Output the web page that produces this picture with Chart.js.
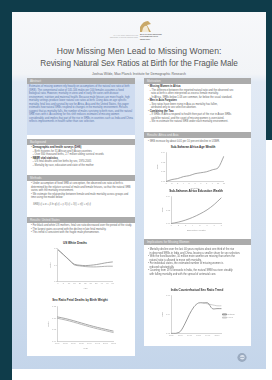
<!DOCTYPE html>
<html>
<head>
<meta charset="utf-8">
<script src="https://cdn.jsdelivr.net/npm/chart.js@4.4.1/dist/chart.umd.min.js"></script>
<style>
  body { margin: 0; width: 272px; height: 380px; background: #fff; position: relative; overflow: hidden; font-family: "Liberation Sans", Arial, sans-serif; }
  .abs { position: absolute; }
  .teal { position: absolute; background: #0f3c4a; }
  #poster { position: absolute; left: 12px; top: 12px; width: 254px; height: 357px;
    background: linear-gradient(#f7f8fa 0px, #f2f4f7 62px, #e2eaf5 70px, #d3e0f0 220px, #c4d5ea 357px); }
  .panel { position: absolute; background: #fff; }
  .hdr { position: absolute; height: 6px; background: #ababab; color: #eee; font-size: 3px; line-height: 6px; padding-left: 3px; box-sizing: border-box; }
  .txt { position: absolute; font-size: 2.6px; line-height: 3.5px; color: #666; }
  .txt b { color: #333; }
  .ctitle { position: absolute; font-size: 3px; font-weight: bold; color: #333; text-align: center; }
  .chart { position: absolute; }
</style>
</head>
<body>
<div class="teal" style="left:0;top:0;width:272px;height:12px"></div>
<div class="teal" style="left:0;top:0;width:12px;height:380px"></div>
<div class="teal" style="left:266px;top:0;width:6px;height:140px"></div>

<div id="poster"></div>

<!-- Kopfbereich -->
<svg class="abs" style="left:139px;top:20px" width="14" height="13" viewBox="0 0 14 13">
  <path d="M1 12 L1 7 Q4 1 9 1 L12 4 L8 5 L12 12 Z" fill="#c9a868"/>
  <path d="M3 12 L4 8 Q6 5 8 6 L10 12 Z" fill="#f3ead6"/>
</svg>
<div class="abs" style="left:100px;top:34px;width:38px;font-size:1.8px;line-height:2.4px;color:#aaa;text-align:right">MAX-PLANCK-INSTITUT FÜR<br>DEMOGRAFISCHE FORSCHUNG</div>
<div class="abs" style="left:140px;top:33px;width:40px;font-size:1.8px;line-height:2.4px;color:#555;font-weight:bold">MAX PLANCK INSTITUTE<br>FOR DEMOGRAPHIC<br>RESEARCH</div>
<div class="abs" style="left:12px;top:45px;width:254px;text-align:center;font-size:8.6px;line-height:12px;color:#555">How Missing Men Lead to Missing Women:</div>
<div class="abs" style="left:12px;top:58px;width:254px;text-align:center;font-size:8.2px;line-height:12px;color:#555;letter-spacing:-0.1px">Revising Natural Sex Ratios at Birth for the Fragile Male</div>
<div class="abs" style="left:12px;top:72px;width:254px;text-align:center;font-size:3.4px;line-height:4px;color:#666">Joshua Wilde, Max Planck Institute for Demographic Research</div>

<!-- Panels -->
<div class="panel" style="left:27px;top:78px;width:108px;height:278px"></div>
<div class="panel" style="left:144px;top:78px;width:107px;height:268px"></div>

<!-- linke Spalte -->
<div class="hdr" style="left:27px;top:78px;width:108px">Abstract</div>
<div class="abs" style="left:27px;top:84px;width:108px;height:51px;background:#cfdcf0"></div>
<div class="txt" style="left:29px;top:85px;width:104px;color:#5a76ac">Estimates of missing women rely heavily on assumptions of the natural sex ratio at birth (SRB). The conventional value of 105-106 males per 100 females assumes a fixed biological ratio. However, mortality in utero and in early life varies with disease environment, nutrition and maternal health. Because male fetuses are more fragile, high mortality settings produce lower natural sex ratios at birth. Using data on age specific mortality, fetal loss and survival by sex for Africa, Asia and the United States, this paper estimates how natural SRBs respond to changes in the mortality environment. Results suggest that as mortality falls, the number of males surviving to birth rises, and the natural SRB rises with it. Accounting for this shift reduces estimates of missing women considerably, and implies that part of the rise in SRBs in countries such as India and China reflects improvements in health rather than sex selection.</div>

<div class="hdr" style="left:27px;top:139px;width:108px">Background</div>
<div class="txt" style="left:31px;top:146px;width:102px">&bull; <b>Demographic and health surveys (DHS)</b><br>&nbsp;&nbsp;– Birth histories for 31 African and 9 Asian countries<br>&nbsp;&nbsp;– Over 800 thousand births, 2.7 million sibling survival records<br>&bull; <b>NBER vital statistics</b><br>&nbsp;&nbsp;– US fetal deaths and live births by sex, 1970-2005<br>&nbsp;&nbsp;– Mortality by race, education and state of the mother</div>

<div class="hdr" style="left:27px;top:175px;width:108px">Methods</div>
<div class="txt" style="left:31px;top:182px;width:102px">&bull; Under assumption of fixed SRB at conception, the observed sex ratio at birth is determined by the relative survival of male and female fetuses, so that the natural SRB varies with the mortality environment.<br>&bull; We estimate the relationship between female and male mortality across groups and time using the model below:</div>
<div class="txt" style="left:33px;top:203px;width:100px;font-style:italic;color:#777">SRB(i,t) = &alpha; + &beta; ln q(i,t) + &gamma; X(i,t) + &delta;(i) + &tau;(t) + &epsilon;(i,t)</div>

<div class="hdr" style="left:27px;top:217px;width:108px">Results: United States</div>
<div class="txt" style="left:31px;top:224px;width:102px">&bull; For black and white US mothers, fetal sex ratio decreased over the period of the study.<br>&bull; The largest gains occurred with the decline in late fetal mortality.<br>&bull; This trend is consistent with the fragile male phenomenon.</div>
<div class="ctitle" style="left:50px;top:241px;width:50px">US White Deaths</div>
<div class="chart" style="left:47px;top:246px;width:68px;height:46px"><canvas id="c1"></canvas></div>
<div class="ctitle" style="left:40px;top:298px;width:80px">Sex Ratio Fetal Deaths by Birth Weight</div>
<div class="chart" style="left:45px;top:304px;width:72px;height:48px"><canvas id="c2"></canvas></div>

<!-- rechte Spalte -->
<div class="hdr" style="left:144px;top:78px;width:107px">Motivation</div>
<div class="txt" style="left:148px;top:85px;width:101px">&bull; <b>Missing Women in Africa</b><br>&nbsp;&nbsp;– The difference between the reported natural ratio and the observed sex<br>&nbsp;&nbsp;&nbsp;&nbsp;ratio at birth is often interpreted as excess female mortality.<br>&nbsp;&nbsp;– In Africa, SRBs below 1.03 are common, far below the usual standard.<br>&bull; <b>Men in Asia Forgotten</b><br>&nbsp;&nbsp;– Sex ratios have been rising in Asia as mortality has fallen,<br>&nbsp;&nbsp;&nbsp;&nbsp;attributed only to sex selective abortion.<br>&bull; <b>Combining the Two</b><br>&nbsp;&nbsp;– If SRBs in Africa respond to health then part of the rise in Asian SRBs<br>&nbsp;&nbsp;&nbsp;&nbsp;could be natural, and the count of missing women is overstated.<br>&nbsp;&nbsp;– We re-estimate the natural SRB under each mortality environment.</div>

<div class="hdr" style="left:144px;top:132px;width:107px">Results: Africa and Asia</div>
<div class="txt" style="left:148px;top:140px;width:101px">&bull; SRB increase by about 0.01 per 10 percent decline in U5MR.</div>
<div class="ctitle" style="left:160px;top:145px;width:66px">Sub-Saharan Africa Age Wealth</div>
<div class="chart" style="left:154px;top:150px;width:72px;height:42px"><canvas id="c3"></canvas></div>
<div class="ctitle" style="left:160px;top:189px;width:72px">Sub-Saharan Africa Education Wealth</div>
<div class="chart" style="left:159px;top:194px;width:64px;height:40px"><canvas id="c4"></canvas></div>

<div class="hdr" style="left:144px;top:239px;width:107px">Implications for Missing Women</div>
<div class="txt" style="left:148px;top:248px;width:101px">&bull; Mortality decline over the last 40 years explains about one third of the rise<br>&nbsp;&nbsp;in observed SRBs in India and China, leaving a smaller share for sex selection.<br>&bull; With the fixed baseline, 10 million more women are missing than when the<br>&nbsp;&nbsp;natural ratio is allowed to move with mortality.<br>&bull; For individual states, the estimated number of missing women is<br>&nbsp;&nbsp;reduced substantially.<br>&bull; Counting from 1970 onwards in India, the natural SRB has risen steadily<br>&nbsp;&nbsp;with falling mortality and with the spread of antenatal care.</div>
<div class="ctitle" style="left:164px;top:288px;width:66px">India Counterfactual Sex Ratio Trend</div>
<div class="chart" style="left:159px;top:293px;width:84px;height:46px"><canvas id="c5"></canvas></div>

<svg class="abs" style="left:236px;top:352px" width="12" height="11" viewBox="0 0 12 11">
  <ellipse cx="6" cy="5.5" rx="4.6" ry="4.4" fill="#9aaabf"/>
  <ellipse cx="6.3" cy="5.2" rx="2.4" ry="2.2" fill="#dfe6ef"/>
  <path d="M4 5.4 L8.5 5.4" stroke="#9aaabf" stroke-width="0.9"/>
</svg>

<script>
// Werte (geschaetzt)
let usAges = ['0', '5', '10', '15', '20', '25', '30', '35', '40', '45', '50'];
let usWhiteA = [1.46, 1.31, 1.16, 1.02, 0.99, 0.98, 0.99, 1.01, 1.04, 1.07, 1.09];
let usWhiteB = [1.46, 1.31, 1.15, 1.00, 0.97, 0.95, 0.94, 0.94, 0.95, 0.96, 0.96];

let weightYears = ['1970', '1975', '1980', '1985', '1990', '1995', '2000', '2005'];
let weightA = [1.105, 1.098, 1.089, 1.079, 1.069, 1.060, 1.052, 1.044];
let weightB = [1.099, 1.092, 1.083, 1.073, 1.063, 1.054, 1.046, 1.038];

let ageWealthX = ['1', '2', '3', '4', '5', '6', '7', '8', '9', '10', '11'];
let ageWealth = [1.010, 1.012, 1.013, 1.015, 1.016, 1.018, 1.019, 1.020, 1.022, 1.024, 1.036];

let eduWealthX = ['1', '2', '3', '4', '5', '6', '7', '8'];
let eduWealth = [1.000, 1.002, 1.005, 1.009, 1.014, 1.020, 1.028, 1.038];

let indiaYears = ['1950', '1955', '1960', '1965', '1970', '1975', '1980', '1985', '1990', '1995', '2000', '2005'];
let indiaNatural = [1.020, 1.020, 1.022, 1.030, 1.040, 1.048, 1.052, 1.052, 1.052, 1.046, 1.046, 1.046];
let indiaFixed = [null, null, null, null, null, null, null, 1.052, 1.051, 1.050, 1.049, 1.049];

let allCharts = [];

function tinyScale(showGrid) {
  return {
    grid: { display: showGrid, color: '#eee', drawTicks: false },
    border: { color: '#aaa', width: 0.5 },
    ticks: { font: { size: 2.2 }, color: '#aaa', padding: 1 }
  };
}

function makeChart(id, labels, datasets, xTitle, yTitle, legend) {
  let x = tinyScale(false);
  let y = tinyScale(false);
  x.title = { display: xTitle !== '', text: xTitle || 'x', font: { size: 2.4 }, color: '#999', padding: 1 };
  y.title = { display: true, text: yTitle, font: { size: 2.4 }, color: '#999', padding: 1 };
  y.ticks.maxTicksLimit = 4;
  x.ticks.maxRotation = 0;

  const config = {
    type: 'line',
    data: { labels: labels, datasets: datasets },
    options: {
      responsive: true,
      maintainAspectRatio: false,
      animation: false,
      layout: { padding: 1 },
      elements: { point: { radius: 0 }, line: { tension: 0.3 } },
      plugins: {
        legend: legend ? {
          display: true, position: 'right',
          labels: { font: { size: 2.2 }, boxWidth: 4, boxHeight: 1, padding: 1, color: '#999' }
        } : { display: false },
        tooltip: { enabled: false }
      },
      scales: { x: x, y: y }
    }
  };
  allCharts.push(new Chart(document.getElementById(id), config));
}

function line(label, data, color, width) {
  return { label: label, data: data, borderColor: color, borderWidth: width, fill: false, spanGaps: false };
}

makeChart('c1', usAges, [
  line('Black', usWhiteA, '#8f8f8f', 0.8),
  line('White', usWhiteB, '#a0a0a0', 0.8)
], 'Age', 'Ratio', false);

makeChart('c2', weightYears, [
  line('Low', weightA, '#8f8f8f', 0.8),
  line('High', weightB, '#a5a5a5', 0.8)
], 'Year', 'Ratio', false);

makeChart('c3', ageWealthX, [
  line('SRB', ageWealth, '#8f8f8f', 0.8)
], 'Quantile', 'SRB', false);

makeChart('c4', eduWealthX, [
  line('SRB', eduWealth, '#8f8f8f', 0.8)
], 'Education Wealth', 'SRB', false);

makeChart('c5', indiaYears, [
  line('Natural', indiaNatural, '#808080', 0.8),
  line('Fixed', indiaFixed, '#b0b0b0', 0.6)
], '', 'SRB', true);
</script>
</body>
</html>
